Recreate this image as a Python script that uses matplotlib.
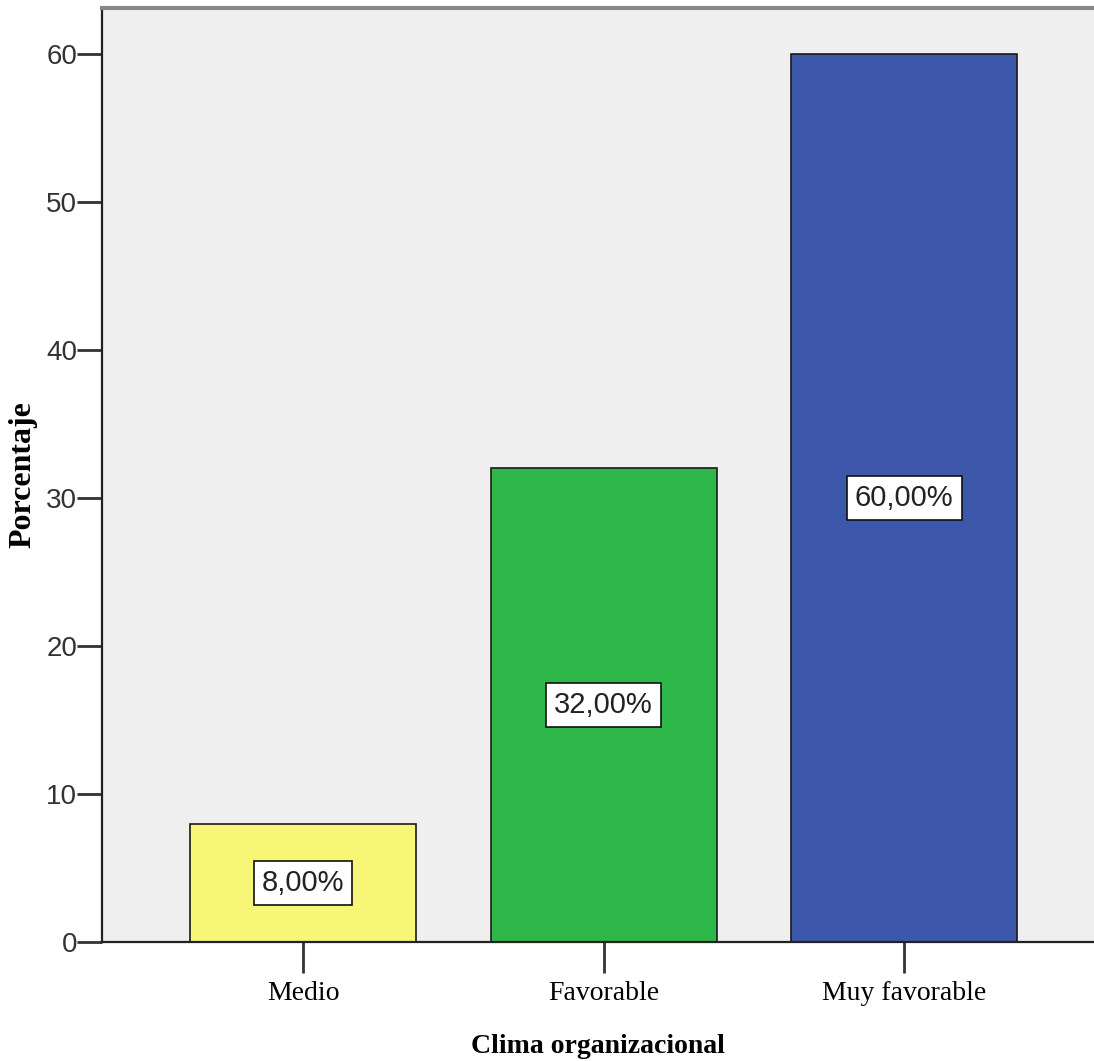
import matplotlib
matplotlib.use("Agg")
import matplotlib.pyplot as plt

categories = ["Medio", "Favorable", "Muy favorable"]
porcentajes = [8.0, 32.0, 60.0]
colores = ["#F8F676", "#2EB84A", "#3D57AA"]
y_ticks = [0, 10, 20, 30, 40, 50, 60]

sans = ["Liberation Sans Narrow", "Liberation Sans", "DejaVu Sans"]
serif = ["Liberation Serif", "DejaVu Serif"]

fig = plt.figure(figsize=(10.94, 10.61), dpi=100)
ax = fig.add_axes([102 / 1094, 1 - 942 / 1061, 1 - 102 / 1094, (942 - 8) / 1061])
ax.set_facecolor("#EFEFEF")

x = list(range(len(categories)))
ax.bar(x, porcentajes, width=0.752, color=colores, edgecolor="#1a1a1a",
       linewidth=1.2, zorder=2)

for xi, v in zip(x, porcentajes):
    ax.text(xi, v / 2, f"{v:.2f}%".replace(".", ","), ha="center", va="center",
            fontsize=21, family=sans, color="#222222", zorder=3,
            bbox=dict(boxstyle="square,pad=0.28", facecolor="white",
                      edgecolor="#111111", linewidth=1.2))

ax.set_xlim(-0.669, 2.632)
ax.set_ylim(0, 63.1)
ax.set_xticks(x)
ax.set_xticklabels(categories, family=serif, fontsize=20)
ax.set_yticks(y_ticks)
ax.set_yticklabels([str(t) for t in y_ticks], family=sans, fontsize=20, color="#333333")
ax.tick_params(axis="y", length=18, width=2, color="#333333", pad=0)
ax.tick_params(axis="x", length=22, width=2, color="#333333", pad=6)

ax.spines["right"].set_visible(False)
ax.spines["top"].set_color("#888888")
ax.spines["top"].set_linewidth(3)
ax.spines["left"].set_linewidth(1.6)
ax.spines["left"].set_color("#222222")
ax.spines["bottom"].set_linewidth(1.6)
ax.spines["bottom"].set_color("#222222")

ax.set_ylabel("Porcentaje", family=serif, fontsize=23, fontweight="bold", labelpad=6)
ax.set_xlabel("Clima organizacional", family=serif, fontsize=20, fontweight="bold", labelpad=20)

fig.savefig("out.png", dpi=100)
